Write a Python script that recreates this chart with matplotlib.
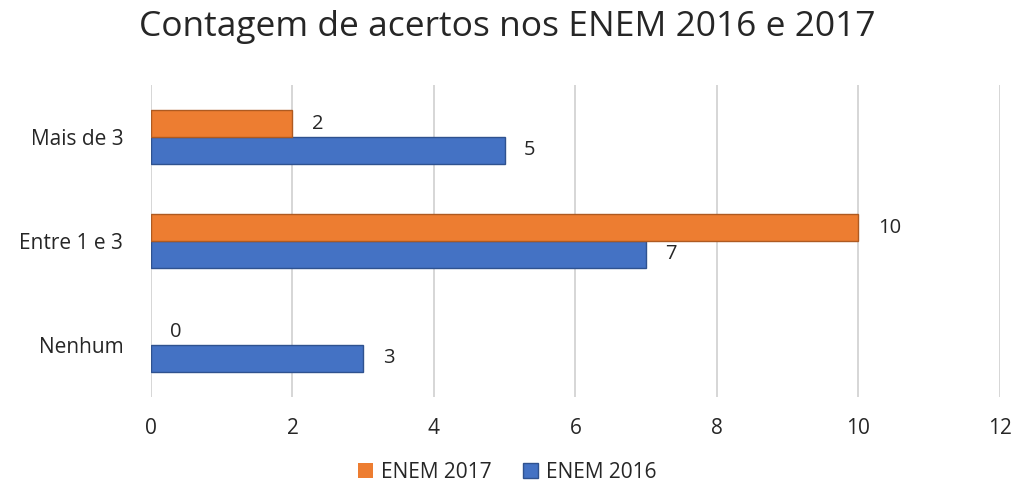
import matplotlib
matplotlib.use("Agg")
import matplotlib.pyplot as plt
import numpy as np

categories = ["Nenhum", "Entre 1 e 3", "Mais de 3"]
enem2016 = [3, 7, 5]
enem2017 = [0, 10, 2]
xticks = [0, 2, 4, 6, 8, 10, 12]

plt.rcParams['font.family'] = ['Open Sans', 'DejaVu Sans']
plt.rcParams['font.weight'] = 'medium'

fig = plt.figure(figsize=(10.15, 4.83), dpi=100)
ax = fig.add_axes([0.1488, 0.178, 0.8362, 0.646])

y = np.arange(len(categories))
h = 0.255
b16 = ax.barh(y - h/2, enem2016, height=h, color="#4472C4", edgecolor="#2F528F",
              linewidth=1, label="ENEM 2016", zorder=3)
b17 = ax.barh(y + h/2, enem2017, height=h, color="#ED7D31", edgecolor="#AE5A21",
              linewidth=1, label="ENEM 2017", zorder=3)

for bars, vals in ((b16, enem2016), (b17, enem2017)):
    for bar, v in zip(bars, vals):
        if v == 0:
            bar.set_linewidth(0)
        ax.annotate(str(v), (bar.get_width(), bar.get_y() + bar.get_height()/2),
                    xytext=(14, 0), textcoords="offset points", ha="left", va="center",
                    fontsize=14.5, color="#262626")

ax.set_xlim(0, 12)
ax.set_ylim(-0.5, 2.5)
ax.set_xticks(xticks)
ax.set_yticks(y)
ax.set_yticklabels(categories)
ax.tick_params(axis='both', length=0, labelsize=15, colors="#262626")
ax.tick_params(axis='x', pad=15)
ax.tick_params(axis='y', pad=20)
ax.grid(axis='x', color="#D0D0D0", linewidth=1.2, zorder=0)
for s in ax.spines.values():
    s.set_visible(False)

fig.text(0.5, 0.945, "Contagem de acertos nos ENEM 2016 e 2017", ha="center", va="center",
         fontsize=25.5, color="#262626")

handles = [b17, b16]
fig.legend(handles, ["ENEM 2017", "ENEM 2016"], loc="center", bbox_to_anchor=(0.5, 0.022),
           ncol=2, frameon=False, fontsize=15, handlelength=0.7, handleheight=0.7,
           columnspacing=1.5, handletextpad=0.4, labelcolor="#262626")

fig.savefig("out.png", dpi=100)
